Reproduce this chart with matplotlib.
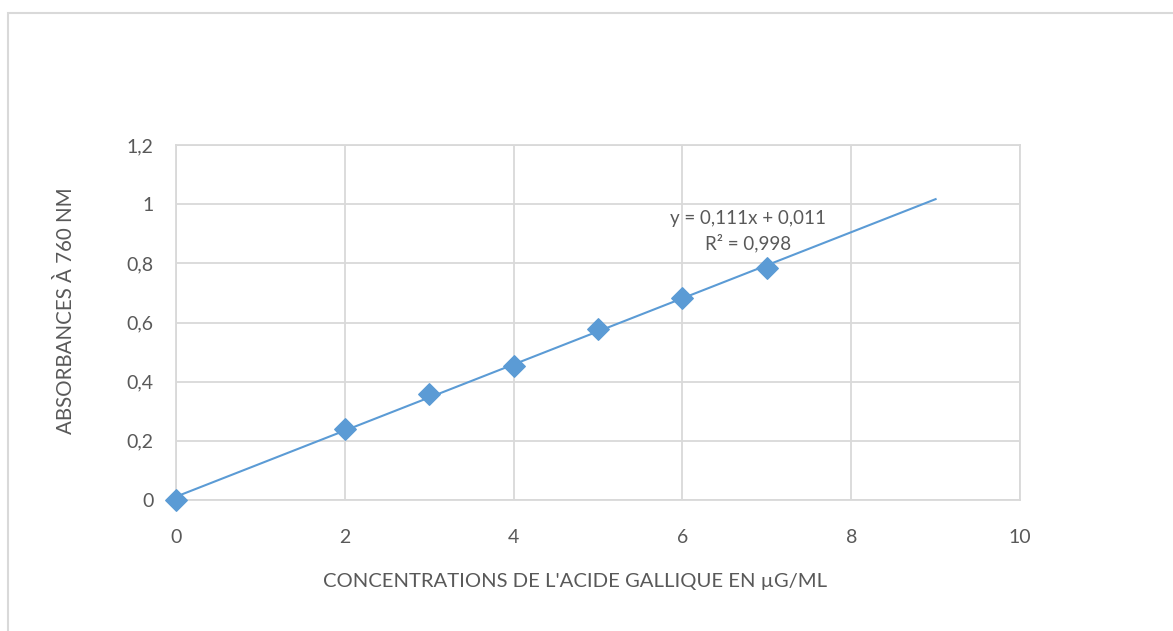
import numpy as np
import matplotlib.pyplot as plt
from matplotlib.ticker import FuncFormatter
from matplotlib.patches import Rectangle

# Data
concentration = [0, 2, 3, 4, 5, 6, 7]
absorbance = [0.0, 0.24, 0.36, 0.453, 0.577, 0.682, 0.784]
trend_end = 9

plt.rcParams['font.family'] = ['Lato', 'DejaVu Sans']
grey = '#595959'
blue = '#5b9bd5'

fig = plt.figure(figsize=(11.73, 6.31), dpi=100)
ax = fig.add_axes([176 / 1173, 131 / 631, 844 / 1173, 355 / 631])

# Outer chart border
fig.patches.append(Rectangle((8 / 1173, -0.05), 1.2, (618 / 631) + 0.05,
                             transform=fig.transFigure, fill=False,
                             edgecolor='#d9d9d9', linewidth=1.5))

# Linear trendline
slope, intercept = np.polyfit(concentration, absorbance, 1)
xt = np.array([0, trend_end])
ax.plot(xt, slope * xt + intercept, color=blue, linewidth=1.5, zorder=3)

ax.scatter(concentration, absorbance, marker='D', s=120, color=blue,
           edgecolors=blue, zorder=4, clip_on=False)

ax.text(6.78, 0.95, 'y = 0,111x + 0,011', ha='center', va='center',
        fontsize=13.5, color=grey)
ax.text(6.78, 0.868, 'R² = 0,998', ha='center', va='center',
        fontsize=13.5, color=grey)

ax.set_xlim(0, 10)
ax.set_ylim(0, 1.2)
ax.set_xticks(range(0, 11, 2))
ax.set_yticks(np.arange(0, 1.21, 0.2))

def comma(v, pos):
    s = ('%.1f' % v).rstrip('0').rstrip('.')
    return s.replace('.', ',')

ax.yaxis.set_major_formatter(FuncFormatter(comma))
ax.xaxis.set_major_formatter(FuncFormatter(comma))

ax.grid(True, color='#d9d9d9', linewidth=1.3)
ax.set_axisbelow(True)
for s in ax.spines.values():
    s.set_color('#d9d9d9')
    s.set_linewidth(1.3)
ax.tick_params(length=0, labelsize=14, colors=grey)
ax.tick_params(axis='x', pad=21)
ax.tick_params(axis='y', pad=16)

ax.set_xlabel("CONCENTRATIONS DE L'ACIDE GALLIQUE EN µG/ML", fontsize=14.6,
              color=grey)
ax.set_ylabel('ABSORBANCES À 760 NM', fontsize=14.8, color=grey)
ax.xaxis.set_label_coords(0.473, -0.205)
ax.yaxis.set_label_coords(-0.118, 0.532)

fig.savefig('out.png', dpi=100)
